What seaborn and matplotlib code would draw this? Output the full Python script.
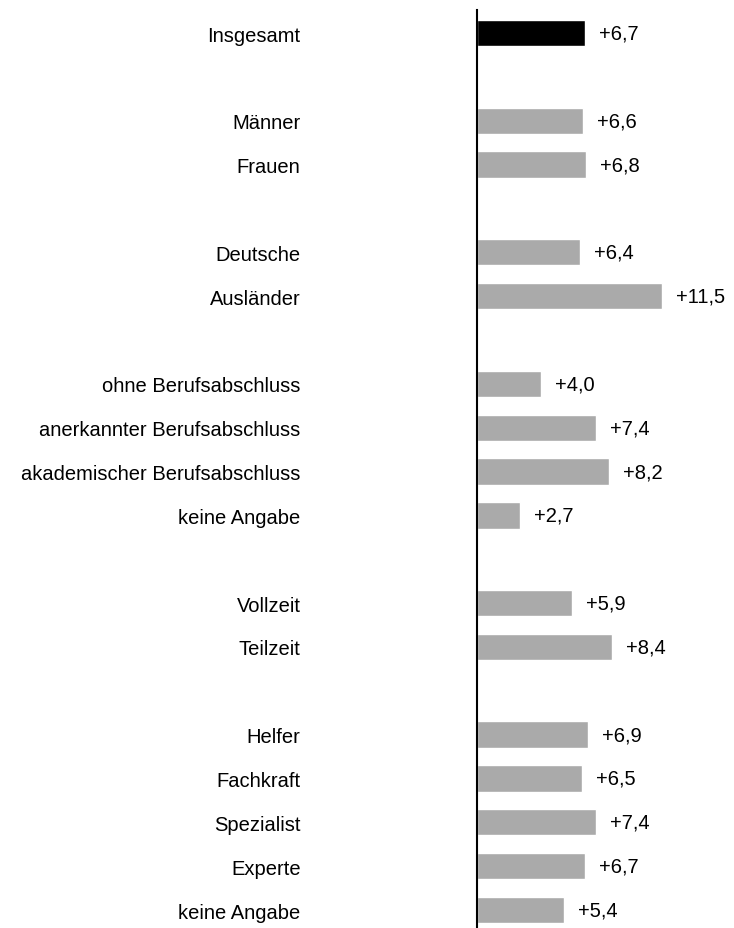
import numpy as np
import pandas as pd
import matplotlib
matplotlib.use("Agg")
import matplotlib.pyplot as plt
import seaborn as sns

# Groups of rows, a blank row between each group
groups = [
    ["Insgesamt"],
    ["Männer", "Frauen"],
    ["Deutsche", "Ausländer"],
    ["ohne Berufsabschluss", "anerkannter Berufsabschluss",
     "akademischer Berufsabschluss", "keine Angabe"],
    ["Vollzeit", "Teilzeit"],
    ["Helfer", "Fachkraft", "Spezialist", "Experte", "keine Angabe"],
]
values = [
    [6.7],
    [6.6, 6.8],
    [6.4, 11.5],
    [4.0, 7.4, 8.2, 2.7],
    [5.9, 8.4],
    [6.9, 6.5, 7.4, 6.7, 5.4],
]

# build a table with row positions (gap row after each group)
rows = []
pos = 0
for gi, (labs, vals) in enumerate(zip(groups, values)):
    for lab, val in zip(labs, vals):
        rows.append({"pos": pos, "label": lab, "value": val,
                     "kind": "gesamt" if gi == 0 else "gruppe"})
        pos += 1
    pos += 1
df = pd.DataFrame(rows)

sns.set_style("white")
plt.rcParams["font.family"] = ["Liberation Sans", "DejaVu Sans"]
plt.rcParams["text.color"] = "black"
plt.rcParams["ytick.color"] = "black"

fig = plt.figure(figsize=(7.34, 9.29), dpi=100)
# axes: left edge at the zero line, spans to the right border
ax = fig.add_axes([477 / 734, 0 / 929, 257 / 734, 918 / 929])

sns.barplot(data=df, x="value", y="pos", hue="kind", orient="y",
            native_scale=True, width=0.6,
            palette={"gesamt": "black", "gruppe": "#aaaaaa"},
            legend=False, saturation=1, ax=ax)

for c in ax.containers:
    labs = ["+" + f"{v:.1f}".replace(".", ",") for v in c.datavalues]
    ax.bar_label(c, labels=labs, padding=10, fontsize=14.5, color="black")

ax.set_xlim(0, 257 / 16.1)
ax.set_ylim(20.41, -0.525)
ax.set_yticks(df["pos"], df["label"])
ax.tick_params(axis="y", length=0, pad=127, labelsize=14.5, labelcolor="black")
ax.set_xticks([])
ax.set_xlabel("")
ax.set_ylabel("")
for s in ["top", "right", "bottom"]:
    ax.spines[s].set_visible(False)
ax.spines["left"].set_color("black")
ax.spines["left"].set_linewidth(1.5)

fig.savefig("out.png", dpi=100)
